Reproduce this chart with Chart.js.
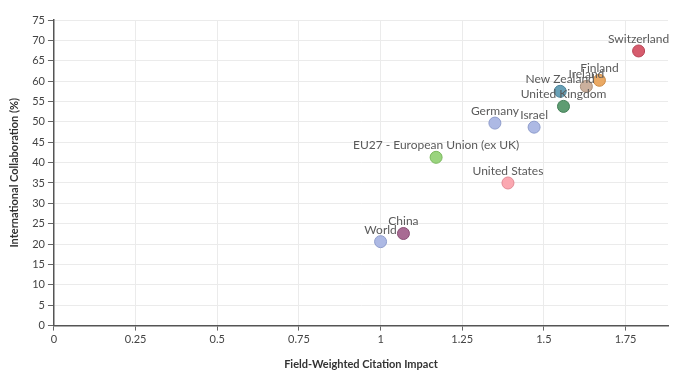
<!DOCTYPE html>
<html>
<head>
<meta charset="utf-8">
<script src="https://cdn.jsdelivr.net/npm/chart.js@4/dist/chart.umd.min.js"></script>
<style>
  body { margin: 0; background: #fff; }
  #box { width: 690px; height: 381px; position: relative; }
</style>
</head>
<body>
<div id="box"><canvas id="grafico"></canvas></div>
<script>
const paises = ["Switzerland", "Finland", "Ireland", "New Zealand", "United Kingdom", "Germany", "Israel", "EU27 - European Union (ex UK)", "United States", "China", "World"];
const fwci = [1.79, 1.67, 1.63, 1.55, 1.56, 1.35, 1.47, 1.17, 1.39, 1.07, 1.0];
const colaboracao = [67.4, 60.2, 58.7, 57.5, 53.8, 49.7, 48.7, 41.3, 35.0, 22.6, 20.6];
const cores = ["#d65c6d", "#eaa964", "#cbb09d", "#68a0b6", "#5e9c72", "#adb9e4", "#adb9e4", "#9ad47e", "#fba8b1", "#a86b93", "#adb9e4"];
const bordas = ["#b84456", "#cc8a44", "#aa907c", "#4a849b", "#437f57", "#8f9dcc", "#8f9dcc", "#7bb85e", "#e28a95", "#8a4f76", "#8f9dcc"];

const fonte = "Lato, 'Open Sans', sans-serif";

// rotulos acima dos pontos
const rotulos = {
  id: "rotulos",
  afterDatasetsDraw(chart) {
    const ctx = chart.ctx;
    const meta = chart.getDatasetMeta(0);
    ctx.save();
    ctx.font = "12px " + fonte;
    ctx.fillStyle = "#5a5a5a";
    ctx.textAlign = "center";
    ctx.textBaseline = "bottom";
    meta.data.forEach((p, i) => {
      ctx.fillText(paises[i], p.x, p.y - 6);
    });
    ctx.restore();
  },
};

new Chart(document.querySelector("#grafico"), {
  type: "scatter",
  data: {
    datasets: [
      {
        data: fwci.map((x, i) => ({ x: x, y: colaboracao[i] })),
        backgroundColor: cores,
        borderColor: bordas,
        borderWidth: 1,
        pointRadius: 6,
      },
    ],
  },
  options: {
    responsive: true,
    maintainAspectRatio: false,
    animation: false,
    layout: { padding: { top: 20, right: 22, left: 4, bottom: 6 } },
    plugins: { legend: { display: false }, tooltip: { enabled: false } },
    scales: {
      x: {
        type: "linear",
        min: 0,
        max: 1.88,
        grid: { color: "#ebebeb", tickColor: "#666", tickLength: 5 },
        border: { color: "#555", width: 1.5 },
        ticks: {
          stepSize: 0.25,
          includeBounds: false,
          maxRotation: 0,
          color: "#444",
          font: { family: fonte, size: 11 },
          padding: 2,
          callback: (v) => String(Math.round(v * 100) / 100),
        },
        title: {
          display: true,
          text: "Field-Weighted Citation Impact",
          color: "#333",
          font: { family: fonte, size: 11, weight: "bold" },
          padding: { top: 10 },
        },
      },
      y: {
        min: 0,
        max: 75,
        grid: { color: "#ebebeb", tickColor: "#666", tickLength: 6 },
        border: { color: "#555", width: 1.5 },
        ticks: {
          stepSize: 5,
          color: "#444",
          font: { family: fonte, size: 11 },
          padding: 3,
        },
        title: {
          display: true,
          text: "International Collaboration (%)",
          color: "#333",
          font: { family: fonte, size: 11, weight: "bold" },
          padding: { bottom: 8 },
        },
      },
    },
  },
  plugins: [rotulos],
});
</script>
</body>
</html>
